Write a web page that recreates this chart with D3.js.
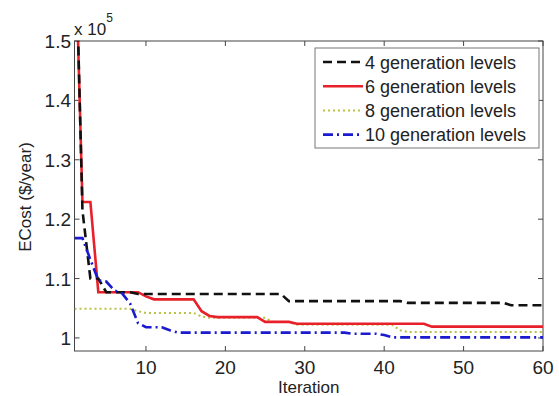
<!DOCTYPE html>
<html>
<head>
<meta charset="utf-8">
<script src="https://cdn.jsdelivr.net/npm/d3@7"></script>
<style>
  body { margin: 0; background: #fff; }
  text { font-family: "Liberation Sans", Arial, sans-serif; fill: #222; }
</style>
</head>
<body>
<div id="chart"></div>
<script>
// values in units of 1e5 $/year, one per iteration 1..60
const iterations = d3.range(1, 61);

const gen4 = [1.75, 1.215, 1.100, 1.100, 1.077, 1.077, 1.077, 1.077, 1.074, 1.074,
  1.074, 1.074, 1.074, 1.074, 1.074, 1.074, 1.074, 1.074, 1.074, 1.074,
  1.074, 1.074, 1.074, 1.074, 1.074, 1.074, 1.074, 1.062, 1.062, 1.062,
  1.062, 1.062, 1.062, 1.062, 1.062, 1.062, 1.062, 1.062, 1.062, 1.062,
  1.062, 1.062, 1.059, 1.059, 1.059, 1.059, 1.059, 1.059, 1.059, 1.059,
  1.059, 1.059, 1.059, 1.059, 1.059, 1.055, 1.055, 1.055, 1.055, 1.055];

const gen6 = [1.72, 1.229, 1.229, 1.077, 1.077, 1.077, 1.077, 1.077, 1.077, 1.070,
  1.065, 1.065, 1.065, 1.065, 1.065, 1.065, 1.045, 1.037, 1.035, 1.035,
  1.035, 1.035, 1.035, 1.035, 1.027, 1.027, 1.027, 1.027, 1.024, 1.024,
  1.024, 1.024, 1.024, 1.024, 1.024, 1.024, 1.024, 1.024, 1.024, 1.024,
  1.024, 1.024, 1.024, 1.024, 1.024, 1.019, 1.019, 1.019, 1.019, 1.019,
  1.019, 1.019, 1.019, 1.019, 1.019, 1.019, 1.019, 1.019, 1.019, 1.019];

const gen8 = [1.049, 1.049, 1.049, 1.049, 1.049, 1.049, 1.049, 1.049, 1.045, 1.042,
  1.042, 1.042, 1.042, 1.042, 1.042, 1.042, 1.036, 1.034, 1.034, 1.034,
  1.034, 1.034, 1.034, 1.034, 1.034, 1.027, 1.027, 1.027, 1.022, 1.022,
  1.022, 1.022, 1.022, 1.022, 1.022, 1.022, 1.022, 1.022, 1.022, 1.022,
  1.022, 1.013, 1.010, 1.010, 1.010, 1.010, 1.010, 1.010, 1.010, 1.010,
  1.010, 1.010, 1.010, 1.010, 1.010, 1.010, 1.010, 1.010, 1.010, 1.010];

const gen10 = [1.168, 1.168, 1.132, 1.097, 1.095, 1.080, 1.075, 1.058, 1.025, 1.018,
  1.018, 1.018, 1.013, 1.009, 1.009, 1.009, 1.009, 1.009, 1.009, 1.009,
  1.009, 1.009, 1.009, 1.009, 1.009, 1.009, 1.009, 1.009, 1.009, 1.009,
  1.009, 1.009, 1.009, 1.009, 1.009, 1.007, 1.007, 1.007, 1.007, 1.005,
  1.001, 1.001, 1.001, 1.001, 1.001, 1.001, 1.001, 1.001, 1.001, 1.001,
  1.001, 1.001, 1.001, 1.001, 1.001, 1.001, 1.001, 1.001, 1.001, 1.001];

const seriesNames = ['4 generation levels', '6 generation levels', '8 generation levels', '10 generation levels'];
const xTicks = [10, 20, 30, 40, 50, 60];
const yTicks = [1, 1.1, 1.2, 1.3, 1.4, 1.5];
const yTickLabels = ['1', '1.1', '1.2', '1.3', '1.4', '1.5'];

const styles = [
  { color: '#111', dash: '9,5', width: 2.6 },
  { color: '#e8202a', dash: null, width: 2.6 },
  { color: '#b9c244', dash: '2,3', width: 2 },
  { color: '#1a1ad0', dash: '10,4,2,4', width: 2.6 }
];

const width = 559, height = 396;
const pLeft = 74.5, pRight = 543, pTop = 41, pBottom = 351;

const svg = d3.select('#chart').append('svg')
  .attr('width', width)
  .attr('height', height);

const x = d3.scaleLinear().domain([1, 60]).range([pLeft, pRight]);
const y = d3.scaleLinear().domain([0.978, 1.5]).range([pBottom, pTop]);

svg.append('defs').append('clipPath').attr('id', 'clip')
  .append('rect')
  .attr('x', pLeft).attr('y', pTop)
  .attr('width', pRight - pLeft).attr('height', pBottom - pTop);

// box
svg.append('rect')
  .attr('x', pLeft).attr('y', pTop)
  .attr('width', pRight - pLeft).attr('height', pBottom - pTop)
  .attr('fill', '#fff')
  .attr('stroke', '#444')
  .attr('stroke-width', 1);

const tickLen = 5;
const axisFont = 19;

// x ticks (inward, bottom and top)
xTicks.forEach(t => {
  svg.append('line')
    .attr('x1', x(t)).attr('x2', x(t))
    .attr('y1', pBottom).attr('y2', pBottom - tickLen)
    .attr('stroke', '#444');
  svg.append('line')
    .attr('x1', x(t)).attr('x2', x(t))
    .attr('y1', pTop).attr('y2', pTop + tickLen)
    .attr('stroke', '#444');
  svg.append('text')
    .attr('x', x(t))
    .attr('y', 374)
    .attr('text-anchor', 'middle')
    .attr('font-size', axisFont)
    .text(t);
});

// y ticks (inward, left and right)
yTicks.forEach((t, i) => {
  svg.append('line')
    .attr('x1', pLeft).attr('x2', pLeft + tickLen)
    .attr('y1', y(t)).attr('y2', y(t))
    .attr('stroke', '#444');
  svg.append('line')
    .attr('x1', pRight).attr('x2', pRight - tickLen)
    .attr('y1', y(t)).attr('y2', y(t))
    .attr('stroke', '#444');
  svg.append('text')
    .attr('x', 71)
    .attr('y', y(t) + 7)
    .attr('text-anchor', 'end')
    .attr('font-size', axisFont)
    .text(yTickLabels[i]);
});

// exponent label
const expo = svg.append('text')
  .attr('x', 74)
  .attr('y', 35)
  .attr('font-size', 17);
expo.append('tspan').text('x 10');
expo.append('tspan')
  .attr('font-size', 12)
  .attr('dy', -13)
  .text('5');

// axis labels
svg.append('text')
  .attr('x', (pLeft + pRight) / 2)
  .attr('y', 393)
  .attr('text-anchor', 'middle')
  .attr('font-size', 17)
  .text('Iteration');

svg.append('text')
  .attr('transform', 'translate(31,' + 197 + ') rotate(-90)')
  .attr('text-anchor', 'middle')
  .attr('font-size', 17)
  .text('ECost ($/year)');

// lines
const line = d3.line()
  .x((d, i) => x(iterations[i]))
  .y(d => y(d));

const allSeries = [gen4, gen6, gen8, gen10];
const plotG = svg.append('g').attr('clip-path', 'url(#clip)');

// draw order: dotted first so the others lie on top of it
[2, 1, 0, 3].forEach(k => {
  plotG.append('path')
    .datum(allSeries[k])
    .attr('d', line)
    .attr('fill', 'none')
    .attr('stroke', styles[k].color)
    .attr('stroke-width', styles[k].width)
    .attr('stroke-dasharray', styles[k].dash);
});

// legend
const legend = svg.append('g');
legend.append('rect')
  .attr('x', 315).attr('y', 48)
  .attr('width', 224).attr('height', 100)
  .attr('fill', '#fff')
  .attr('stroke', '#777')
  .attr('stroke-width', 1);

seriesNames.forEach((name, k) => {
  const cy = 62 + k * 24.2;
  legend.append('line')
    .attr('x1', 323).attr('x2', 363)
    .attr('y1', cy).attr('y2', cy)
    .attr('stroke', styles[k].color)
    .attr('stroke-width', styles[k].width)
    .attr('stroke-dasharray', styles[k].dash);
  legend.append('text')
    .attr('x', 365)
    .attr('y', cy + 6.5)
    .attr('font-size', 18)
    .text(name);
});
</script>
</body>
</html>
